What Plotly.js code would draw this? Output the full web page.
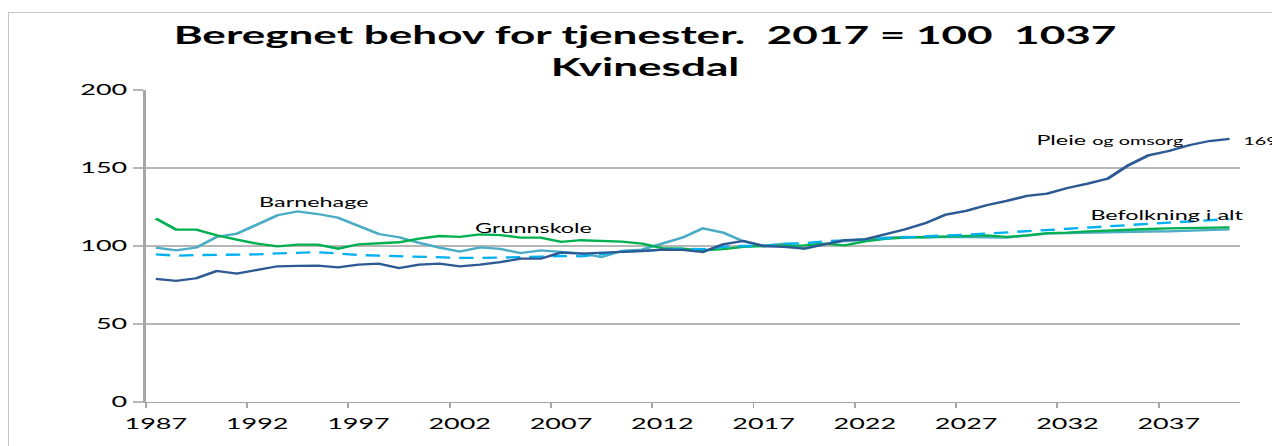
<!DOCTYPE html>
<html>
<head>
<meta charset="utf-8">
<script src="https://cdn.plot.ly/plotly-3.0.1.min.js"></script>
<style>
html,body{margin:0;padding:0;overflow:hidden;width:1272px;height:446px;background:#ffffff}
#frame{position:absolute;left:8px;top:12px;width:1400px;height:700px;border-left:1.5px solid #c4c4c4;border-top:1.5px solid #c4c4c4}
#chart{position:absolute;left:0;top:0;width:707px;height:446px;transform:scaleX(1.7992);transform-origin:0 0}
</style>
</head>
<body>
<div id="frame"></div>
<div id="chart"></div>
<script>
// Years 1987–2040
const years = [];
for (let y = 1987; y <= 2040; y++) years.push(y);

const xTickLabels = ["1987","1992","1997","2002","2007","2012","2017","2022","2027","2032","2037"];
const yTickVals = [0, 50, 100, 150, 200];

const barnehage = [99,97.2,99,105.8,107.9,113.7,119.7,122.2,120.5,118.1,
  112.6,107.7,105.6,102,99,96.4,99.1,98.1,95.5,97.2,
  96.2,95.3,93,96.8,97.7,101.5,105.4,111.3,108.6,103,
  100,101.5,98.3,101.1,103.2,104,105.4,105.8,105.4,105.8,
  105.8,105.6,105.4,106.7,107.9,108.3,108.6,109,109.2,109.3,
  109.4,109.7,110,110.7];

const grunnskole = [117.6,110.5,110.5,106.9,104.1,101.5,99.8,100.9,100.9,98.3,
  101.1,101.9,102.4,104.7,106.4,105.8,107.5,107,105.4,105.4,
  102.6,103.7,103.2,102.8,101.5,98.7,98.3,97.2,98,99.4,
  100,100,100.4,101.5,100.4,103,104.5,105.4,105.8,106,
  106.3,106.8,105.8,106.8,108.3,108.6,109.4,110,110.5,110.9,
  111.3,111.5,111.8,112];

const pleie = [78.9,77.6,79.3,84,82.3,84.9,87,87.2,87.4,86.3,
  88,88.7,85.9,88,88.7,87,88,89.6,91.9,91.9,
  95.8,95.1,95.5,96.2,96.8,97.7,97.5,96.2,101.1,103.2,
  100,99.4,98.3,101.1,103.7,104.3,107.5,110.7,114.7,120.1,
  122.5,126.1,128.9,132.1,133.6,137.2,140,143.2,151.7,158.1,
  160.9,164.6,167.3,168.6];

const befolkning = [94.7,93.8,94.2,94.4,94.2,94.6,95.3,95.8,96,95.2,
  94.2,93.8,93.4,93,92.6,92.4,92.3,92.4,92.8,93.2,
  93.6,93.4,94.7,96.4,96.8,97.7,98.3,98,99.4,100,
  100,101.5,101.8,103,103.7,104.3,104.7,105.4,106.2,106.8,
  107.2,107.9,108.6,109.3,110,110.9,111.8,112.6,113.5,114.2,
  115,115.7,116.5,117.3];

const FONT = "Lato, 'Open Sans', sans-serif";

const traces = [
  {x: years, y: barnehage, name: "Barnehage", type: "scatter", mode: "lines",
   line: {color: "#4BACC6", width: 2.3}},
  {x: years, y: grunnskole, name: "Grunnskole", type: "scatter", mode: "lines",
   line: {color: "#00B050", width: 2.3}},
  {x: years, y: befolkning, name: "Befolkning i alt", type: "scatter", mode: "lines",
   line: {color: "#00B0F0", width: 2.3, dash: "8px,5px"}},
  {x: years, y: pleie, name: "Pleie og omsorg", type: "scatter", mode: "lines",
   line: {color: "#2E5A94", width: 2.3}}
];

const layout = {
  width: 707, height: 446,
  margin: {l: 80.9, r: 17.8, t: 90, b: 44, pad: 0},
  paper_bgcolor: "rgba(0,0,0,0)",
  plot_bgcolor: "rgba(0,0,0,0)",
  showlegend: false,
  hovermode: false,
  font: {family: FONT, color: "#000000"},
  title: {
    text: "Beregnet behov for tjenester.  2017 = 100  1037<br>Kvinesdal",
    font: {family: FONT, size: 24.5, weight: 700, color: "#000000"},
    x: 358.5 / 707, xanchor: "center", xref: "container",
    y: 1 - 44 / 446, yanchor: "top", yref: "container"
  },
  xaxis: {
    range: [1986.5, 2040.5],
    tickmode: "array",
    tickvals: xTickLabels.map(Number),
    ticktext: xTickLabels,
    ticks: "",
    ticklabelstandoff: 8,
    minor: {
      tickmode: "array",
      tickvals: xTickLabels.map(v => Number(v) - 0.5),
      ticks: "outside", ticklen: 5, tickwidth: 1, tickcolor: "#a6a6a6",
      showgrid: false
    },
    showline: true, linecolor: "#a6a6a6", linewidth: 1.3,
    showgrid: false, zeroline: false,
    tickfont: {family: FONT, size: 15, color: "#000000"}
  },
  yaxis: {
    range: [0, 200],
    tickmode: "array",
    tickvals: yTickVals,
    ticktext: yTickVals.map(String),
    ticks: "outside", ticklen: 6, tickwidth: 1.3, tickcolor: "#b7b7b7",
    ticklabelstandoff: 8.3,
    showline: true, linecolor: "#a6a6a6", linewidth: 1.3,
    showgrid: true, gridcolor: "#b7b7b7", gridwidth: 1.3,
    zeroline: false,
    tickfont: {family: FONT, size: 15, color: "#000000"}
  },
  annotations: [
    {text: "Barnehage", x: 1994.83, y: 128, xref: "x", yref: "y", showarrow: false,
     xanchor: "center", yanchor: "middle", font: {family: FONT, size: 13, color: "#000"}},
    {text: "Grunnskole", x: 2005.6, y: 111.3, xref: "x", yref: "y", showarrow: false,
     xanchor: "center", yanchor: "middle", font: {family: FONT, size: 13, color: "#000"}},
    {text: "Pleie <span style='font-size:11px'>og omsorg</span>", x: 2034.1, y: 167.7, xref: "x", yref: "y",
     showarrow: false, xanchor: "center", yanchor: "middle", font: {family: FONT, size: 13, color: "#000"}},
    {text: "169", x: 2040, xshift: 6, y: 167.7, xref: "x", yref: "y", showarrow: false,
     xanchor: "left", yanchor: "middle", font: {family: FONT, size: 11, color: "#000"}},
    {text: "Befolkning i alt", x: 2036.9, y: 119.7, xref: "x", yref: "y", showarrow: false,
     xanchor: "center", yanchor: "middle", font: {family: FONT, size: 13, color: "#000"}}
  ]
};

Plotly.newPlot("chart", traces, layout, {staticPlot: true, displayModeBar: false, responsive: false});
</script>
</body>
</html>
